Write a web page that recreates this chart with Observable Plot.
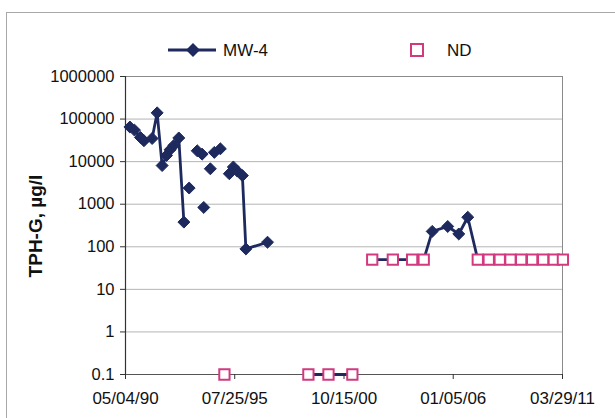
<!DOCTYPE html>
<html>
<head>
<meta charset="utf-8">
<script src="https://cdn.jsdelivr.net/npm/d3@7"></script>
<script src="https://cdn.jsdelivr.net/npm/@observablehq/plot@0.6"></script>
<style>
  html, body { margin: 0; padding: 0; background: #fff; }
  #wrap { position: relative; width: 615px; height: 418px; overflow: hidden; background: #fff;
          font-family: "Liberation Sans", Arial, sans-serif; }
  #frame { position: absolute; left: 6px; top: 12px; width: 700px; height: 600px; border: 1px solid #a8a8a8; }
  #chart { position: absolute; left: 0; top: 0; }
  #ylabel { position: absolute; left: 36px; top: 226px; transform: translate(-50%, -50%) rotate(-90deg);
            font-weight: bold; font-size: 19px; color: #111; white-space: nowrap; }
  .leg { position: absolute; font-size: 17px; color: #111; line-height: 1; }
</style>
</head>
<body>
<div id="wrap">
  <div id="frame"></div>
  <div id="chart"></div>
  <div id="ylabel">TPH-G, µg/l</div>
  <svg class="leg" style="left:166px;top:39px" width="54" height="22">
    <line x1="2" y1="11" x2="50" y2="11" stroke="#1e2a5e" stroke-width="2.8"/>
    <path d="M27,4 L34,11 L27,18 L20,11 Z" fill="#1e2a5e"/>
  </svg>
  <div class="leg" style="left:223px;top:42px">MW-4</div>
  <svg class="leg" style="left:409px;top:42px" width="16" height="16">
    <rect x="2" y="2" width="12" height="12" fill="#fff" stroke="#d23a80" stroke-width="2"/>
  </svg>
  <div class="leg" style="left:447px;top:42px">ND</div>
</div>
<script>
// Sampling sequence (null = break in the plotted line)
const sampleDates = [
  "1990-07-20", "1990-10-08", "1991-01-20", "1991-03-22", "1991-08-12", "1991-11-08",
  "1992-02-03", "1992-04-20", "1992-06-20", "1992-08-25", "1992-11-20", "1993-02-17",
  null, "1993-05-20",
  null, "1993-10-08", "1994-01-01",
  null, "1994-01-30",
  null, "1994-05-25",
  null, "1994-08-03", "1994-11-16",
  null, "1995-01-26",
  null, "1995-04-22", "1995-07-01", "1995-09-08", "1995-12-06", "1996-02-05", "1997-02-17",
  null, "1999-02-01", "2000-01-18", "2001-03-10",
  null, "2002-02-20", "2003-02-15", "2004-01-18", "2004-08-08",
  "2005-01-03", "2005-10-01", "2006-04-12", "2006-09-16",
  "2007-03-10", "2007-09-18", "2008-03-28", "2008-10-01", "2009-04-06",
  "2009-10-15", "2010-04-26", "2010-10-28", "2011-04-05"
];
const sampleValues = [
  65000, 55000, 37000, 31000, 35000, 140000,
  8100, 14000, 19000, 24000, 36000, 380,
  null, 2400,
  null, 18000, 15000,
  null, 840,
  null, 6800,
  null, 16500, 20000,
  null, 0.1,
  null, 5200, 7500, 6000, 4700, 89, 128,
  null, 0.1, 0.1, 0.1,
  null, 50, 50, 50, 50,
  230, 300, 200, 495,
  50, 50, 50, 50, 50,
  50, 50, 50, 50
];
// 1 = non-detect (plotted at reporting limit)
const sampleND = [
  0, 0, 0, 0, 0, 0,
  0, 0, 0, 0, 0, 0,
  0, 0,
  0, 0, 0,
  0, 0,
  0, 0,
  0, 0, 0,
  0, 1,
  0, 0, 0, 0, 0, 0, 0,
  0, 1, 1, 1,
  0, 1, 1, 1, 1,
  0, 0, 0, 0,
  1, 1, 1, 1, 1,
  1, 1, 1, 1
];
const xTickDates = ["1990-05-04", "1995-07-25", "2000-10-15", "2006-01-05", "2011-03-29"];
const yTicks = [0.1, 1, 10, 100, 1000, 10000, 100000, 1000000];
const yGrid = [1, 10, 100, 1000, 10000, 100000];

const parse = d3.utcParse("%Y-%m-%d");
const rows = sampleDates.map((d, i) => ({
  date: d === null ? null : parse(d),
  value: sampleValues[i],
  nd: sampleND[i]
}));
const valid = rows.filter(r => r.date !== null && r.value !== null);
const detects = valid.filter(r => !r.nd);
const nondetects = valid.filter(r => r.nd);
const xt = xTickDates.map(parse);
const xDomain = [xt[0], xt[xt.length - 1]];
const fmt = d3.utcFormat("%m/%d/%y");

const navy = "#1e2a5e";
const pink = "#d23a80";

const chart = Plot.plot({
  width: 615,
  height: 418,
  marginLeft: 125,
  marginRight: 53,
  marginTop: 76,
  marginBottom: 44,
  style: { fontFamily: "Liberation Sans, Arial, sans-serif", fontSize: "16px", color: "#111", background: "transparent", overflow: "visible" },
  x: { type: "utc", domain: xDomain },
  y: { type: "log", domain: [0.1, 1000000] },
  marks: [
    Plot.ruleY(yGrid, { stroke: "#b4b4b4", strokeWidth: 1 }),
    Plot.ruleY([1000000], { stroke: "#8a8a8a", strokeWidth: 1 }),
    Plot.ruleX([xDomain[1]], { stroke: "#8a8a8a", strokeWidth: 1 }),
    Plot.ruleY([0.1], { stroke: "#555", strokeWidth: 1.2 }),
    Plot.ruleX([xDomain[0]], { stroke: "#333", strokeWidth: 1.2 }),
    Plot.axisY({ ticks: yTicks, tickFormat: d => String(d), tickSize: 5, tickPadding: 6, label: null, fontSize: 16.5, stroke: "#333" }),
    Plot.axisX({ ticks: xt, tickFormat: fmt, tickSize: 5, tickPadding: 12, label: null, fontSize: 17, stroke: "#333" }),
    Plot.line(rows, { x: "date", y: "value", stroke: navy, strokeWidth: 2.8 }),
    Plot.dot(detects, { x: "date", y: "value", symbol: "diamond2", r: 5.4, fill: navy, stroke: navy, strokeWidth: 1 }),
    Plot.dot(nondetects, { x: "date", y: "value", symbol: "square", r: 5.8, fill: "#fff", stroke: pink, strokeWidth: 2 })
  ]
});
document.getElementById("chart").appendChild(chart);
</script>
</body>
</html>
